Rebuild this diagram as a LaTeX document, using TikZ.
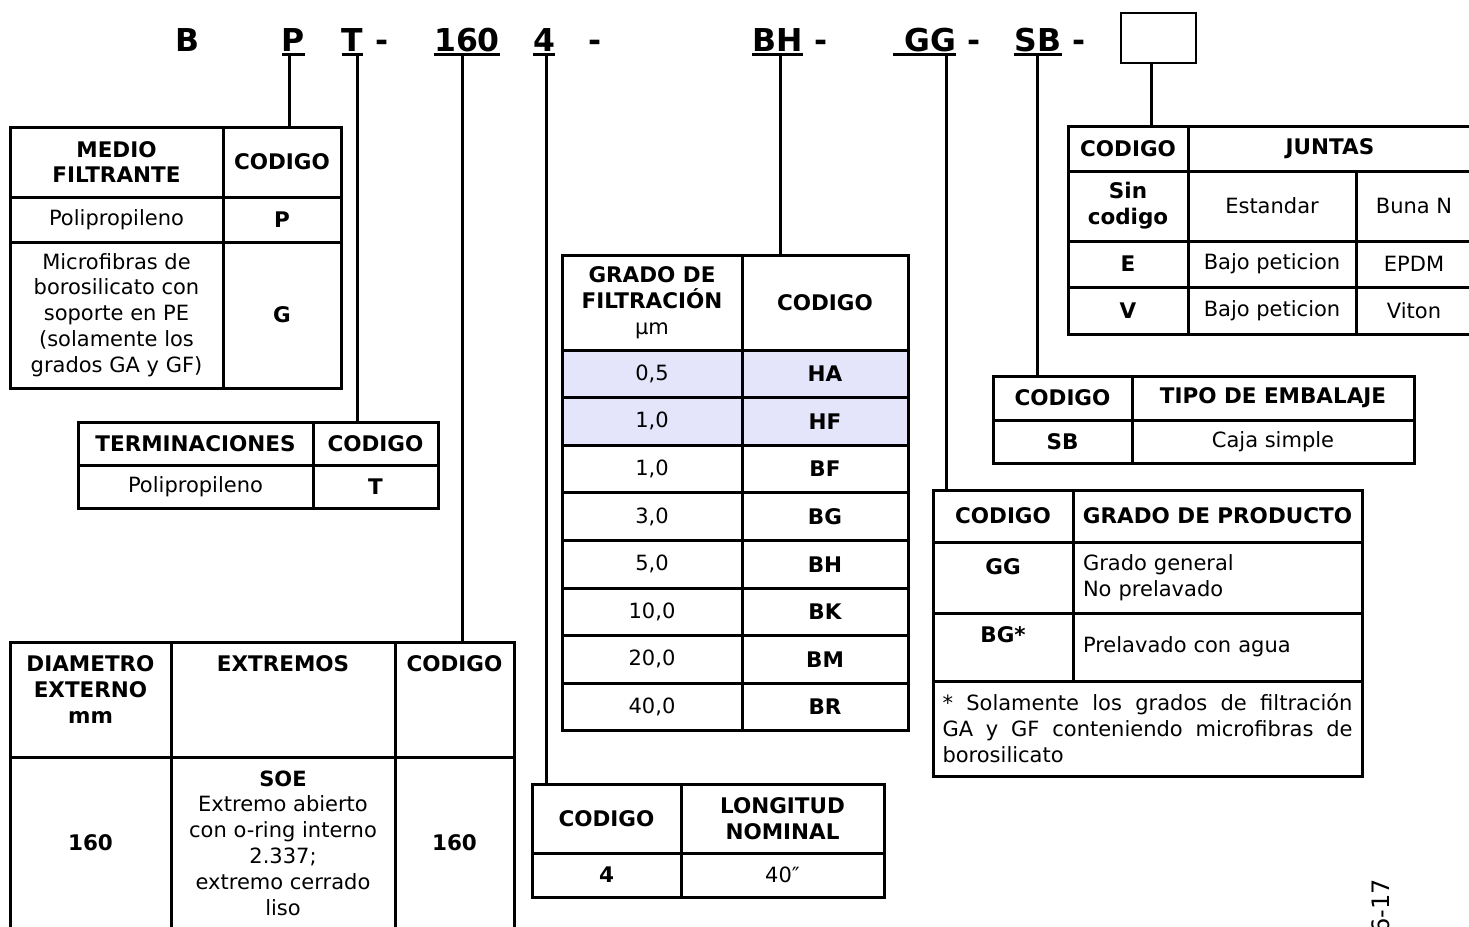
\documentclass[tikz,border=0pt]{standalone}
\usepackage{fontspec}
\setmainfont{DejaVu Sans}
\newcommand{\tabfont}{\fontsize{21}{25.8}\selectfont}
\newcommand{\hdfont}{\fontsize{21.5}{25.8}\selectfont\bfseries}
\definecolor{rowshade}{RGB}{228,228,250}
\tikzset{
  cell/.style={draw, line width=3pt, outer sep=0pt, inner sep=0pt, anchor=north west, align=center, font=\tabfont},
  hcell/.style={cell, font=\hdfont},
  sz/.style 2 args={minimum width=#1, minimum height=#2},
  toptxt/.style={anchor=north, inner sep=0pt, align=center, font=\hdfont},
  code/.style={inner sep=0pt, anchor=base, font=\fontsize{31.5}{31.5}\selectfont\bfseries},
  uline/.style={line width=3pt},
  link/.style={line width=3pt},
}

\begin{document}
\begin{tikzpicture}[x=1pt,y=-1pt]
\useasboundingbox (0,0) rectangle (1469,926);

% product code
\node[code] (B) at (187.5,51) {B};
\node[code] (med) at (293.5,51) {P};
\node[code] (term) at (352.5,51) {T};
\node[code] (d1) at (382.5,51) {-};
\node[code] (dia) at (467,51) {160};
\node[code] (len) at (544,51) {4};
\node[code] (d2) at (595.5,51) {-};
\node[code] (grade) at (777.5,51) {BH};
\node[code] (d3) at (821,51) {-};
\node[code] (prod) at (924.5,51) {\ GG};
\node[code] (d4) at (974.5,51) {-};
\node[code] (pack) at (1038,51) {SB};
\node[code] (d5) at (1079.5,51) {-};
\node[draw, line width=2.5pt, sz={75}{50}, anchor=north west, inner sep=0pt, outer sep=0pt] (opt) at (1121,13) {};

\draw[uline] ([yshift=-3.5pt]med.base west) -- ([yshift=-3.5pt]med.base east);
\draw[uline] ([yshift=-3.5pt]term.base west) -- ([yshift=-3.5pt]term.base east);
\draw[uline] ([yshift=-3.5pt]dia.base west) -- ([yshift=-3.5pt]dia.base east);
\draw[uline] ([yshift=-3.5pt]len.base west) -- ([yshift=-3.5pt]len.base east);
\draw[uline] ([yshift=-3.5pt]grade.base west) -- ([yshift=-3.5pt]grade.base east);
\draw[uline] ([yshift=-3.5pt]prod.base west) -- ([yshift=-3.5pt]prod.base east);
\draw[uline] ([yshift=-3.5pt]pack.base west) -- ([yshift=-3.5pt]pack.base east);

% medio filtrante
\node[hcell, sz={213}{70}] (mf-h1) at (10,127) {MEDIO\\FILTRANTE};
\node[hcell, sz={118}{70}] (mf-h2) at (223,127) {CODIGO};
\node[cell, sz={213}{45}] (mf-11) at (10,197) {Polipropileno};
\node[hcell, sz={118}{45}] (mf-12) at (223,197) {P};
\node[cell, sz={213}{146}] (mf-21) at (10,242) {Microfibras de\\borosilicato con\\soporte en PE\\(solamente los\\grados GA y GF)};
\node[hcell, sz={118}{146}] (mf-22) at (223,242) {G};

% terminaciones
\node[hcell, sz={235}{43}] (tm-h1) at (78,422) {TERMINACIONES};
\node[hcell, sz={125}{43}] (tm-h2) at (313,422) {CODIGO};
\node[cell, sz={235}{43}] (tm-11) at (78,465) {Polipropileno};
\node[hcell, sz={125}{43}] (tm-12) at (313,465) {T};

% diametro / extremos
\node[cell, sz={161}{115}, label={[toptxt, name=dm-t1, yshift=-13.5pt]north:{DIAMETRO\\EXTERNO\\mm}}] (dm-h1) at (10,642) {};
\node[cell, sz={224}{115}, label={[toptxt, name=dm-t2, yshift=-13.5pt]north:EXTREMOS}] (dm-h2) at (171,642) {};
\node[cell, sz={119}{115}, label={[toptxt, name=dm-t3, yshift=-13.5pt]north:CODIGO}] (dm-h3) at (395,642) {};
\node[hcell, sz={161}{172}] (dm-11) at (10,757) {160};
\node[cell, sz={224}{172}] (dm-12) at (171,757) {\textbf{SOE}\\Extremo abierto\\con o-ring interno\\2.337;\\extremo cerrado\\liso};
\node[hcell, sz={119}{172}] (dm-13) at (395,757) {160};

% longitud nominal
\node[hcell, sz={149}{69}] (ln-h1) at (532,784) {CODIGO};
\node[hcell, sz={203}{69}] (ln-h2) at (681,784) {LONGITUD\\NOMINAL};
\node[hcell, sz={149}{44}] (ln-11) at (532,853) {4};
\node[cell, sz={203}{44}] (ln-12) at (681,853) {40″};

% grado de filtracion
\node[cell, sz={180}{95}] (fl-h1) at (562,255) {{\hdfont GRADO DE}\\{\hdfont FILTRACIÓN}\\µm};
\node[hcell, sz={166}{95}] (fl-h2) at (742,255) {CODIGO};
\node[cell, fill=rowshade, sz={180}{47.6}] (fl-11) at (562,350) {0,5};
\node[hcell, fill=rowshade, sz={166}{47.6}] (fl-12) at (742,350) {HA};
\node[cell, fill=rowshade, sz={180}{47.6}] (fl-21) at (562,397.6) {1,0};
\node[hcell, fill=rowshade, sz={166}{47.6}] (fl-22) at (742,397.6) {HF};
\node[cell, sz={180}{47.6}] (fl-31) at (562,445.2) {1,0};
\node[hcell, sz={166}{47.6}] (fl-32) at (742,445.2) {BF};
\node[cell, sz={180}{47.6}] (fl-41) at (562,492.8) {3,0};
\node[hcell, sz={166}{47.6}] (fl-42) at (742,492.8) {BG};
\node[cell, sz={180}{47.6}] (fl-51) at (562,540.4) {5,0};
\node[hcell, sz={166}{47.6}] (fl-52) at (742,540.4) {BH};
\node[cell, sz={180}{47.6}] (fl-61) at (562,588) {10,0};
\node[hcell, sz={166}{47.6}] (fl-62) at (742,588) {BK};
\node[cell, sz={180}{47.6}] (fl-71) at (562,635.6) {20,0};
\node[hcell, sz={166}{47.6}] (fl-72) at (742,635.6) {BM};
\node[cell, sz={180}{47.6}] (fl-81) at (562,683.2) {40,0};
\node[hcell, sz={166}{47.6}] (fl-82) at (742,683.2) {BR};

% juntas
\node[hcell, sz={120}{45}] (jn-h1) at (1068,126) {CODIGO};
\node[hcell, sz={284}{45}] (jn-h2) at (1188,126) {JUNTAS};
\node[hcell, sz={120}{70}] (jn-11) at (1068,171) {Sin\\codigo};
\node[cell, sz={168}{70}] (jn-12) at (1188,171) {Estandar};
\node[cell, sz={116}{70}] (jn-13) at (1356,171) {Buna N};
\node[hcell, sz={120}{46}] (jn-21) at (1068,241) {E};
\node[cell, sz={168}{46}] (jn-22) at (1188,241) {Bajo peticion};
\node[cell, sz={116}{46}] (jn-23) at (1356,241) {EPDM};
\node[hcell, sz={120}{47}] (jn-31) at (1068,287) {V};
\node[cell, sz={168}{47}] (jn-32) at (1188,287) {Bajo peticion};
\node[cell, sz={116}{47}] (jn-33) at (1356,287) {Viton};

% tipo de embalaje
\node[hcell, sz={139}{44}] (eb-h1) at (993,376) {CODIGO};
\node[hcell, sz={282}{44}] (eb-h2) at (1132,376) {TIPO DE EMBALAJE};
\node[hcell, sz={139}{43}] (eb-11) at (993,420) {SB};
\node[cell, sz={282}{43}] (eb-12) at (1132,420) {Caja simple};

% grado de producto
\node[hcell, sz={140}{52}] (pr-h1) at (933,490) {CODIGO};
\node[hcell, sz={289}{52}] (pr-h2) at (1073,490) {GRADO DE PRODUCTO};
\node[cell, sz={140}{71}, label={[toptxt, name=pr-t1, yshift=-16.5pt]north:GG}] (pr-11) at (933,542) {};
\node[cell, sz={289}{71}, text width=269pt, align=left] (pr-12) at (1073,542) {Grado general\\No prelavado};
\node[cell, sz={140}{68}, label={[toptxt, name=pr-t2, yshift=-13.5pt]north:BG*}] (pr-21) at (933,613) {};
\node[cell, sz={289}{68}, text width=269pt, align=left] (pr-22) at (1073,613) {Prelavado con agua};
\node[cell, sz={429}{95}, text width=410pt, align=justify] (pr-n) at (933,681) {* Solamente los grados de filtración\linebreak GA y GF conteniendo microfibras de\linebreak borosilicato};

\node[rotate=90, anchor=east, inner sep=0pt, font=\fontsize{24}{24}\selectfont] (pgno) at (1381,879) {6-17};

% links code -> tables
\coordinate (med-out) at ([xshift=-4.5pt,yshift=-3.5pt]med.base);
\coordinate (term-out) at ([xshift=4.5pt,yshift=-3.5pt]term.base);
\coordinate (dia-out) at ([xshift=-5pt,yshift=-3.5pt]dia.base);
\coordinate (len-out) at ([xshift=2pt,yshift=-3.5pt]len.base);
\coordinate (grade-out) at ([xshift=2.5pt,yshift=-3.5pt]grade.base);
\coordinate (prod-out) at ([xshift=21.5pt,yshift=-3.5pt]prod.base);
\coordinate (pack-out) at ([xshift=-1pt,yshift=-3.5pt]pack.base);
\coordinate (opt-out) at ([xshift=-7.5pt]opt.south);
\draw[link] (med-out) -- (med-out |- mf-h2.north);
\draw[link] (term-out) -- (term-out |- tm-h2.north);
\draw[link] (dia-out) -- (dia-out |- dm-h3.north);
\draw[link] (len-out) -- (len-out |- ln-h1.north);
\draw[link] (grade-out) -- (grade-out |- fl-h2.north);
\draw[link] (prod-out) -- (prod-out |- pr-h1.north);
\draw[link] (pack-out) -- (pack-out |- eb-h1.north);
\draw[link] (opt-out) -- (opt-out |- jn-h1.north);
\end{tikzpicture}
\end{document}
